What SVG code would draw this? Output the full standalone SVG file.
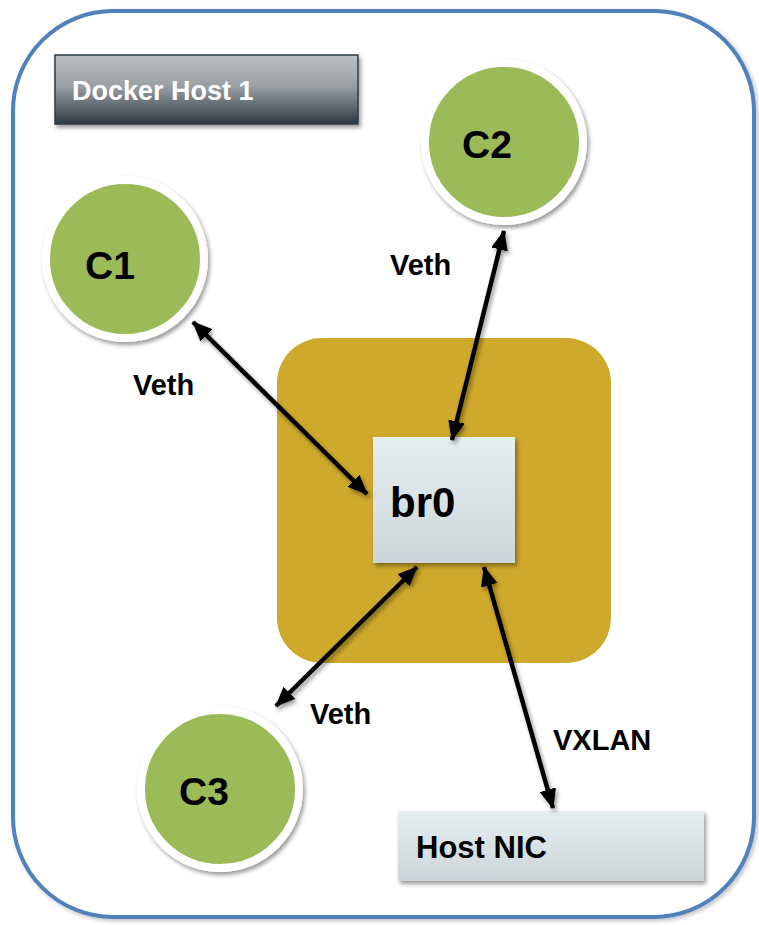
<svg xmlns="http://www.w3.org/2000/svg" width="759" height="925" viewBox="0 0 759 925">
  <defs>
    <linearGradient id="hdrGrad" x1="0" y1="0" x2="0" y2="1">
      <stop offset="0" stop-color="#bcc0c3"/>
      <stop offset="0.45" stop-color="#9a9fa3"/>
      <stop offset="1" stop-color="#2c3a43"/>
    </linearGradient>
    <linearGradient id="boxGrad" x1="0" y1="0" x2="0" y2="1">
      <stop offset="0" stop-color="#e5eff0"/>
      <stop offset="1" stop-color="#ccd6d8"/>
    </linearGradient>
    <filter id="shadow" x="-20%" y="-20%" width="140%" height="140%">
      <feDropShadow dx="2" dy="3" stdDeviation="2" flood-color="#000" flood-opacity="0.4"/>
    </filter>
    <filter id="softShadow" x="-10%" y="-10%" width="120%" height="120%">
      <feDropShadow dx="2" dy="2" stdDeviation="2" flood-color="#000" flood-opacity="0.25"/>
    </filter>
    <marker id="head" viewBox="0 0 20 17" refX="19" refY="8.5" markerWidth="20" markerHeight="17" markerUnits="userSpaceOnUse" orient="auto-start-reverse">
      <path d="M0,0 L20,8.5 L0,17 Z" fill="#000"/>
    </marker>
    <style>
      .lbl { font-family: "Liberation Sans", Arial, sans-serif; font-weight: bold; fill: #000; }
      .link { stroke: #000; stroke-width: 4.5; fill: none; marker-start: url(#head); marker-end: url(#head); }
      .ring { fill: #9bbb59; stroke: #fff; stroke-width: 8; filter: url(#shadow); }
      .box { fill: url(#boxGrad); filter: url(#shadow); }
    </style>
  </defs>

  <rect width="759" height="925" fill="#fff"/>

  <!-- host frame -->
  <g id="docker-host">
    <rect x="13" y="11" width="741" height="906" rx="100" ry="100" fill="#fff" stroke="#4f81bd" stroke-width="4" filter="url(#softShadow)"/>
  </g>

  <!-- host title -->
  <g id="host-title">
    <rect x="55" y="55" width="303" height="69" fill="url(#hdrGrad)" stroke="#2e3d46" stroke-width="1.5" filter="url(#shadow)"/>
    <text x="72" y="100" font-family="Liberation Sans, Arial, sans-serif" font-weight="bold" font-size="27" fill="#fff">Docker Host 1</text>
  </g>

  <!-- bridge area -->
  <g id="bridge-area">
    <rect x="277" y="338" width="334" height="325" rx="45" ry="45" fill="#cfa92b"/>
  </g>

  <g id="br0">
    <rect class="box" x="373" y="437" width="142" height="126"/>
    <text class="lbl" x="390" y="517" font-size="42">br0</text>
  </g>

  <g id="c1">
    <circle class="ring" cx="125" cy="259" r="79"/>
    <text class="lbl" x="85" y="279" font-size="39">C1</text>
  </g>

  <g id="c2">
    <circle class="ring" cx="504" cy="142" r="79"/>
    <text class="lbl" x="462" y="158" font-size="39">C2</text>
  </g>

  <g id="c3">
    <circle class="ring" cx="220" cy="789" r="79"/>
    <text class="lbl" x="179" y="805" font-size="39">C3</text>
  </g>

  <g id="host-nic">
    <rect class="box" x="398" y="811" width="306" height="70"/>
    <text class="lbl" x="416" y="858" font-size="31">Host NIC</text>
  </g>

  <!-- links -->
  <g id="connectors" filter="url(#shadow)">
    <line class="link" x1="193" y1="322" x2="367" y2="494"/>
    <line class="link" x1="504" y1="231" x2="452" y2="440"/>
    <line class="link" x1="276" y1="706" x2="417" y2="567"/>
    <line class="link" x1="484" y1="567" x2="553" y2="808"/>
  </g>

  <g id="link-labels">
    <text class="lbl" x="133" y="395" font-size="29">Veth</text>
    <text class="lbl" x="390" y="275" font-size="29">Veth</text>
    <text class="lbl" x="310" y="724" font-size="29">Veth</text>
    <text class="lbl" x="553" y="750" font-size="29">VXLAN</text>
  </g>
</svg>
